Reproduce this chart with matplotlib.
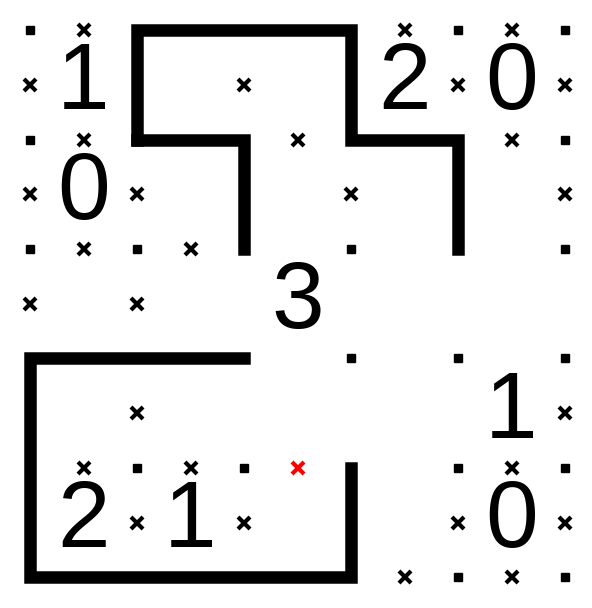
import matplotlib
matplotlib.use("Agg")
import matplotlib.pyplot as plt

# clues: (row, col, value)
clue_rows = [0, 0, 0, 1, 2, 3, 4, 4, 4]
clue_cols = [0, 3, 4, 0, 2, 4, 0, 1, 4]
clue_vals = ["1", "2", "0", "0", "3", "1", "2", "1", "0"]

# line segments in lattice coords (x, y) pairs
segments = [
    [(1, 1), (1, 0), (3, 0), (3, 1), (4, 1), (4, 2)],
    [(1, 1), (2, 1), (2, 2)],
    [(2, 3), (0, 3), (0, 5), (3, 5), (3, 4)],
]

# crosses at edge midpoints (x, y) in lattice coords
cross_x = [0.5, 3.5, 4.5, 0, 2, 4, 5, 0.5, 2.5, 4.5, 0, 1, 3, 5, 0.5, 1.5, 0, 1, 1, 5, 0.5, 1.5, 4.5, 1, 2, 4, 5, 3.5, 4.5]
cross_y = [0, 0, 0, 0.5, 0.5, 0.5, 0.5, 1, 1, 1, 1.5, 1.5, 1.5, 1.5, 2, 2, 2.5, 2.5, 3.5, 3.5, 4, 4, 4, 4.5, 4.5, 4.5, 4.5, 5, 5]
red_cross = (2.5, 4)

fig = plt.figure(figsize=(5.92, 6.08), dpi=100)
ax = fig.add_axes([0, 0, 1, 1])
ax.set_xlim(-30/107, (592-30)/107)
ax.set_ylim((608-30)/109.5, -30/109.5)
ax.axis("off")

for i in range(6):
    for j in range(6):
        ax.plot(i, j, "s", color="black", ms=6)

for seg in segments:
    xs, ys = zip(*seg)
    ax.plot(xs, ys, color="black", lw=9, solid_joinstyle="miter", solid_capstyle="projecting")

ax.plot(cross_x, cross_y, "x", color="black", ms=9, mew=3)
ax.plot(*red_cross, "x", color="red", ms=9, mew=3)

for r, c, v in zip(clue_rows, clue_cols, clue_vals):
    ax.text(c + 0.5, r + 0.5, v, ha="center", va="center", fontsize=68,
            color="black", family="Liberation Sans")

fig.savefig("out.png", dpi=100)
